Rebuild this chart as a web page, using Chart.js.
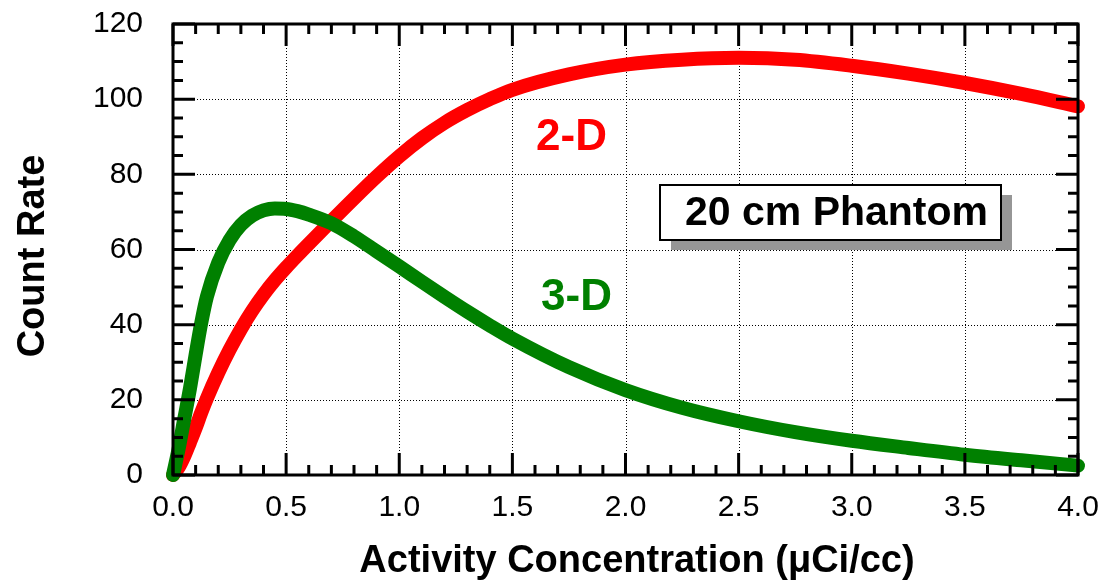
<!DOCTYPE html>
<html><head><meta charset="utf-8">
<script src="https://cdn.jsdelivr.net/npm/chart.js@4/dist/chart.umd.min.js"></script>
<style>html,body{margin:0;padding:0;background:#fff;overflow:hidden}</style>
</head><body>
<canvas id="c" width="1116" height="581" style="width:1116px;height:581px;display:block"></canvas>
<script>
const activity = [0, 0.025, 0.05, 0.075, 0.1, 0.125, 0.15, 0.2, 0.25, 0.3, 0.35, 0.4, 0.45, 0.5, 0.55, 0.6, 0.7, 0.8, 0.9, 1.0, 1.1, 1.2, 1.3, 1.4, 1.5, 1.75, 2.0, 2.25, 2.5, 2.75, 3.0, 3.25, 3.5, 3.75, 4.0];
const rate2D = [0, 2, 5, 8.7, 12.5, 16.6, 20.4, 27.2, 33.3, 38.8, 43.7, 48.0, 51.8, 55.2, 58.4, 61.5, 67.6, 73.6, 79.4, 84.8, 89.6, 93.7, 97.1, 100.0, 102.5, 106.6, 109.2, 110.5, 111.0, 110.5, 108.9, 106.8, 104.3, 101.4, 98.1];
const rate3D = [0, 7, 15, 23, 32, 40.5, 47.5, 56.5, 62.5, 66.5, 69, 70.4, 70.9, 70.8, 70.2, 69.3, 67, 63.5, 59.5, 55.5, 51.4, 47.4, 43.5, 39.8, 36.3, 28.7, 22.6, 17.9, 14.3, 11.4, 9.1, 7.2, 5.4, 3.9, 2.5];
const xTickValues = [0, 0.5, 1.0, 1.5, 2.0, 2.5, 3.0, 3.5, 4.0];
const yTickValues = [0, 20, 40, 60, 80, 100, 120];
const seriesNames = ['3-D', '2-D'];
const xTitle = 'Activity Concentration (\u03bcCi/cc)';
const yTitle = 'Count Rate';
const boxText = '20 cm Phantom';

const FONT = '"Liberation Sans", Arial, Helvetica, sans-serif';

const decorPlugin = {
  id: 'decor',
  beforeDatasetsDraw(chart) {
    const {ctx, chartArea: a, scales: {x, y}} = chart;
    ctx.save();
    ctx.strokeStyle = '#000';
    ctx.lineWidth = 1;
    ctx.setLineDash([1, 2]);
    xTickValues.forEach(v => {
      const px = Math.round(x.getPixelForValue(v)) + 0.5;
      ctx.beginPath(); ctx.moveTo(px, a.top); ctx.lineTo(px, a.bottom); ctx.stroke();
    });
    yTickValues.forEach(v => {
      const py = Math.round(y.getPixelForValue(v)) + 0.5;
      ctx.beginPath(); ctx.moveTo(a.left, py); ctx.lineTo(a.right, py); ctx.stroke();
    });
    ctx.restore();
  },
  afterDatasetsDraw(chart) {
    const {ctx, chartArea: a, scales: {x, y}} = chart;
    ctx.save();
    ctx.strokeStyle = '#000';
    ctx.lineWidth = 3;
    ctx.lineCap = 'butt';
    const major = 22, minor = 10;
    for (let i = 0; i <= 40; i++) {
      const px = x.getPixelForValue(i / 10);
      const len = (i % 5 === 0) ? major : minor;
      ctx.beginPath();
      ctx.moveTo(px, a.bottom); ctx.lineTo(px, a.bottom - len);
      ctx.moveTo(px, a.top); ctx.lineTo(px, a.top + len);
      ctx.stroke();
    }
    for (let i = 0; i <= 24; i++) {
      const py = y.getPixelForValue(i * 5);
      const len = (i % 4 === 0) ? major : minor;
      ctx.beginPath();
      ctx.moveTo(a.left, py); ctx.lineTo(a.left + len, py);
      ctx.moveTo(a.right, py); ctx.lineTo(a.right - len, py);
      ctx.stroke();
    }
    ctx.lineJoin = 'miter';
    ctx.strokeRect(a.left, a.top, a.right - a.left, a.bottom - a.top);

    ctx.textAlign = 'center';
    ctx.textBaseline = 'alphabetic';
    ctx.font = 'bold 44px ' + FONT;
    ctx.fillStyle = '#ff0000';
    ctx.fillText(seriesNames[1], 571.5, 150);
    ctx.fillStyle = '#008000';
    ctx.fillText(seriesNames[0], 576.5, 310);

    const bx = 660, by = 185, bw = 341, bh = 55;
    ctx.fillStyle = '#969696';
    ctx.fillRect(bx + 11, by + 10, bw, bh);
    ctx.fillStyle = '#ffffff';
    ctx.fillRect(bx, by, bw, bh);
    ctx.lineWidth = 2;
    ctx.strokeStyle = '#000';
    ctx.strokeRect(bx, by, bw, bh);
    ctx.fillStyle = '#000';
    ctx.font = 'bold 41px ' + FONT;
    ctx.fillText(boxText, 836.5, 225);

    ctx.font = 'bold 38px ' + FONT;
    ctx.fillText(xTitle, 637, 572);
    ctx.save();
    ctx.translate(44, 256);
    ctx.rotate(-Math.PI / 2);
    ctx.fillText(yTitle, 0, 0);
    ctx.restore();
    ctx.restore();
  }
};

const lineStyle = {
  borderWidth: 14,
  pointRadius: 0,
  fill: false,
  cubicInterpolationMode: 'monotone',
  borderCapStyle: 'round',
  borderJoinStyle: 'round',
  clip: false
};

new Chart(document.getElementById('c'), {
  type: 'line',
  data: {
    datasets: [
      Object.assign({
        label: seriesNames[0],
        data: activity.map((v, i) => ({x: v, y: rate3D[i]})),
        borderColor: '#008000', backgroundColor: '#008000'
      }, lineStyle),
      Object.assign({
        label: seriesNames[1],
        data: activity.map((v, i) => ({x: v, y: rate2D[i]})),
        borderColor: '#ff0000', backgroundColor: '#ff0000'
      }, lineStyle)
    ]
  },
  options: {
    responsive: false,
    animation: false,
    devicePixelRatio: 1,
    events: [],
    layout: {padding: {top: 24, right: 38, left: 0, bottom: 0}},
    plugins: {legend: {display: false}, tooltip: {enabled: false}},
    scales: {
      x: {
        type: 'linear', position: 'bottom', min: 0, max: 4,
        afterBuildTicks: s => { s.ticks = xTickValues.map(v => ({value: v})); },
        ticks: {
          callback: v => Number(v).toFixed(1),
          font: {family: FONT, size: 30}, color: '#000', padding: 15, maxRotation: 0, autoSkip: false
        },
        grid: {display: false, drawTicks: false},
        border: {display: false},
        afterFit: s => { s.height = 106; s.paddingLeft = 0; s.paddingRight = 0; s.paddingTop = 0; s.paddingBottom = 0; }
      },
      y: {
        type: 'linear', position: 'left', min: 0, max: 120,
        afterBuildTicks: s => { s.ticks = yTickValues.map(v => ({value: v})); },
        ticks: {
          callback: v => String(v),
          font: {family: FONT, size: 30}, color: '#000', padding: 30, autoSkip: false
        },
        grid: {display: false, drawTicks: false},
        border: {display: false},
        afterFit: s => { s.width = 173; s.paddingLeft = 0; s.paddingRight = 0; s.paddingTop = 0; s.paddingBottom = 0; }
      }
    }
  },
  plugins: [decorPlugin]
});
</script>
</body></html>
